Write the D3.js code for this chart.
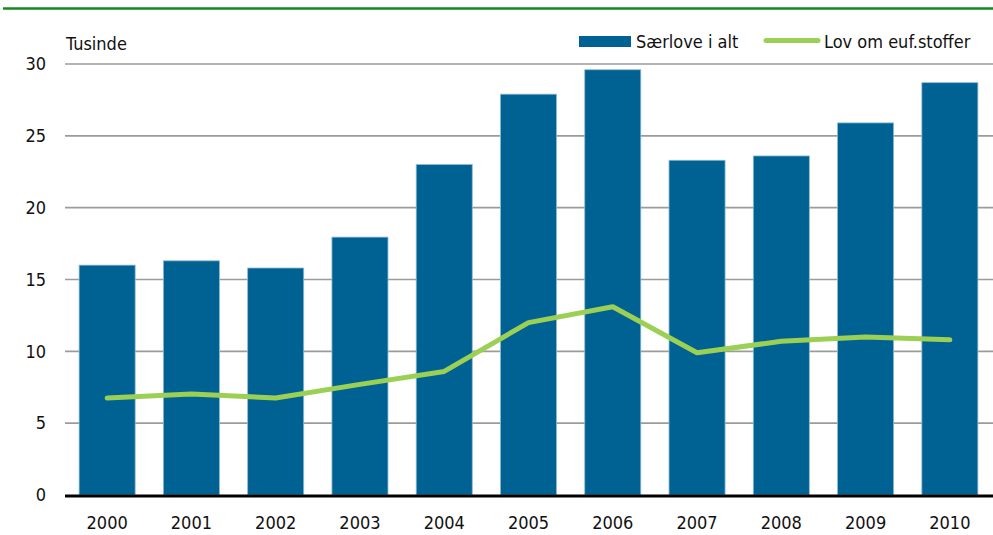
<!DOCTYPE html>
<html><head><meta charset="utf-8">
<script src="https://cdn.jsdelivr.net/npm/d3@7"></script>
<style>body{margin:0;background:#fff}svg{display:block}text{font-family:"Liberation Sans Narrow","DejaVu Sans Condensed","Open Sans",sans-serif;}</style>
</head><body><svg id="c" width="993" height="535"></svg>
<script>
const years = ["2000","2001","2002","2003","2004","2005","2006","2007","2008","2009","2010"];
const saerlove = [16.0,16.3,15.8,17.95,23.0,27.9,29.6,23.3,23.6,25.9,28.7];
const eufStoffer = [6.75,7.03,6.75,7.7,8.6,12.0,13.1,9.9,10.7,11.0,10.8];
const yTicks = [0,5,10,15,20,25,30];

const svg = d3.select("#c");
const x = d3.scaleBand().domain(years).range([65,992]).paddingInner(0.335).paddingOuter(0.1675);
const y = d3.scaleLinear().domain([0,30]).range([495,64]);
const fs = 18;

svg.append("line").attr("x1",3).attr("x2",993).attr("y1",8.5).attr("y2",8.5).attr("stroke","#128a1e").attr("stroke-width",2.5);

// gridlines
svg.append("g").selectAll("line").data(yTicks.filter(d=>d>0)).join("line")
  .attr("x1",65).attr("x2",993).attr("y1",d=>y(d)).attr("y2",d=>y(d))
  .attr("stroke","#9b9b9b").attr("stroke-width",1.6);

// y labels
svg.append("g").selectAll("text").data(yTicks).join("text")
  .attr("x",46).attr("y",d=>y(d)).attr("dy","0.35em").attr("text-anchor","end")
  .attr("font-size",fs).attr("fill","#111").text(d=>d);

svg.append("text").attr("x",66).attr("y",50).attr("font-size",fs).attr("fill","#111").text("Tusinde");

// bars
svg.append("g").selectAll("rect").data(saerlove).join("rect")
  .attr("x",(d,i)=>x(years[i])).attr("width",x.bandwidth())
  .attr("y",d=>y(d)).attr("height",d=>y(0)-y(d))
  .attr("fill","#006293").attr("stroke","#8fb9d3").attr("stroke-width",0.8);

// baseline
svg.append("line").attr("x1",65).attr("x2",993).attr("y1",y(0)+1).attr("y2",y(0)+1).attr("stroke","#000").attr("stroke-width",3);

// line
const line = d3.line().x((d,i)=>x(years[i])+x.bandwidth()/2).y(d=>y(d));
svg.append("path").datum(eufStoffer).attr("d",line).attr("fill","none")
  .attr("stroke","#9cd055").attr("stroke-width",5).attr("stroke-linecap","round").attr("stroke-linejoin","round");

// x labels
svg.append("g").selectAll("text").data(years).join("text")
  .attr("x",d=>x(d)+x.bandwidth()/2).attr("y",523).attr("dy","0.35em").attr("text-anchor","middle")
  .attr("font-size",fs).attr("fill","#111").text(d=>d);

// legend
svg.append("rect").attr("x",579).attr("y",36).attr("width",52).attr("height",11).attr("fill","#006293");
svg.append("text").attr("x",636).attr("y",41.5).attr("dy","0.35em").attr("font-size",fs).attr("fill","#111").text("Særlove i alt");
svg.append("line").attr("x1",766).attr("x2",818).attr("y1",40.5).attr("y2",40.5).attr("stroke","#9cd055").attr("stroke-width",5).attr("stroke-linecap","round");
svg.append("text").attr("x",824).attr("y",41.5).attr("dy","0.35em").attr("font-size",fs).attr("fill","#111").text("Lov om euf.stoffer");
</script></body></html>
